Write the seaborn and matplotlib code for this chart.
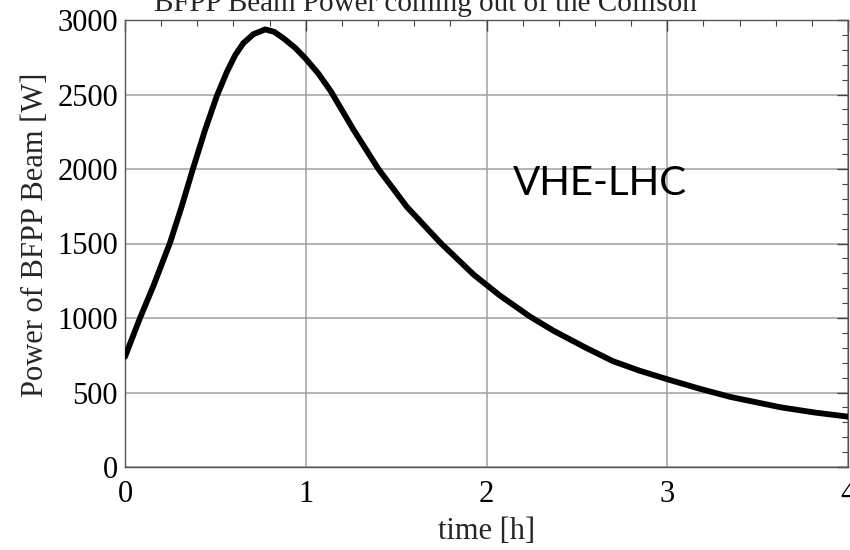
import numpy as np
import pandas as pd
import matplotlib
matplotlib.use("Agg")
import matplotlib.pyplot as plt
import seaborn as sns
from matplotlib.ticker import MultipleLocator

# Data
time_h = [0.0, 0.083, 0.157, 0.249, 0.314, 0.375, 0.443, 0.508, 0.563, 0.610, 0.655,
          0.711, 0.776, 0.826, 0.877, 0.94, 1.0, 1.07, 1.137, 1.265, 1.403, 1.56, 1.745,
          1.93, 2.075, 2.24, 2.37, 2.55, 2.70, 2.85, 3.0, 3.18, 3.35, 3.63, 3.82, 4.0]
power_w = [740, 1000, 1215, 1505, 1750, 1998, 2262, 2490, 2650, 2765, 2845,
           2905, 2937, 2920, 2877, 2815, 2740, 2640, 2525, 2262, 1998, 1745, 1505,
           1290, 1150, 1010, 915, 800, 710, 645, 589, 525, 470, 400, 365, 338]

title_text = "BFPP Beam Power coming out of the Collison"
x_label = "time [h]"
y_label = "Power of BFPP Beam [W]"
annotation = "VHE-LHC"

df = pd.DataFrame({"time": time_h, "power": power_w})

sns.set_style("white")
plt.rcParams["font.family"] = ["Liberation Serif", "DejaVu Serif"]

fig = plt.figure(figsize=(8.5, 5.5), dpi=100)
ax = fig.add_axes([125 / 850, 1 - 467 / 550, (848 - 125) / 850, (467 - 20) / 550])

sns.lineplot(data=df, x="time", y="power", ax=ax, color="black", linewidth=4.2,
             sort=False, zorder=5)
ax.lines[0].set_solid_joinstyle("round")
ax.lines[0].set_solid_capstyle("round")

ax.set_xlim(0, 4)
ax.set_ylim(0, 3000)
ax.xaxis.set_major_locator(MultipleLocator(1))
ax.xaxis.set_minor_locator(MultipleLocator(0.2))
ax.yaxis.set_major_locator(MultipleLocator(500))
ax.yaxis.set_minor_locator(MultipleLocator(100))

ax.grid(True, which="major", color="#a0a0a0", linewidth=1.1)
ax.tick_params(which="both", direction="in", top=True, right=True,
               colors="#444444", labelcolor="black")
ax.tick_params(which="major", length=8, width=1)
ax.tick_params(which="minor", length=4, width=0.8)
ax.tick_params(axis="x", which="major", labelsize=22, pad=9)
ax.tick_params(axis="y", which="major", labelsize=22, pad=5)

for s in ax.spines.values():
    s.set_color("#555555")
    s.set_linewidth(1.0)
    s.set_visible(True)

ax.set_xlabel(x_label, fontsize=22)
ax.xaxis.set_label_coords(0.5, -0.112)
ax.set_ylabel(y_label, fontsize=22, va="center")
ax.yaxis.set_label_coords(-0.124, 0.52)

ax.text(2.144, 1825, annotation, fontsize=29, family=["Lato", "DejaVu Sans"],
        ha="left", va="baseline", color="black", zorder=6)

fig.text(425 / 850, 1 - 11 / 550, title_text, fontsize=21, ha="center",
         va="baseline")

fig.savefig("out.png", dpi=100)
